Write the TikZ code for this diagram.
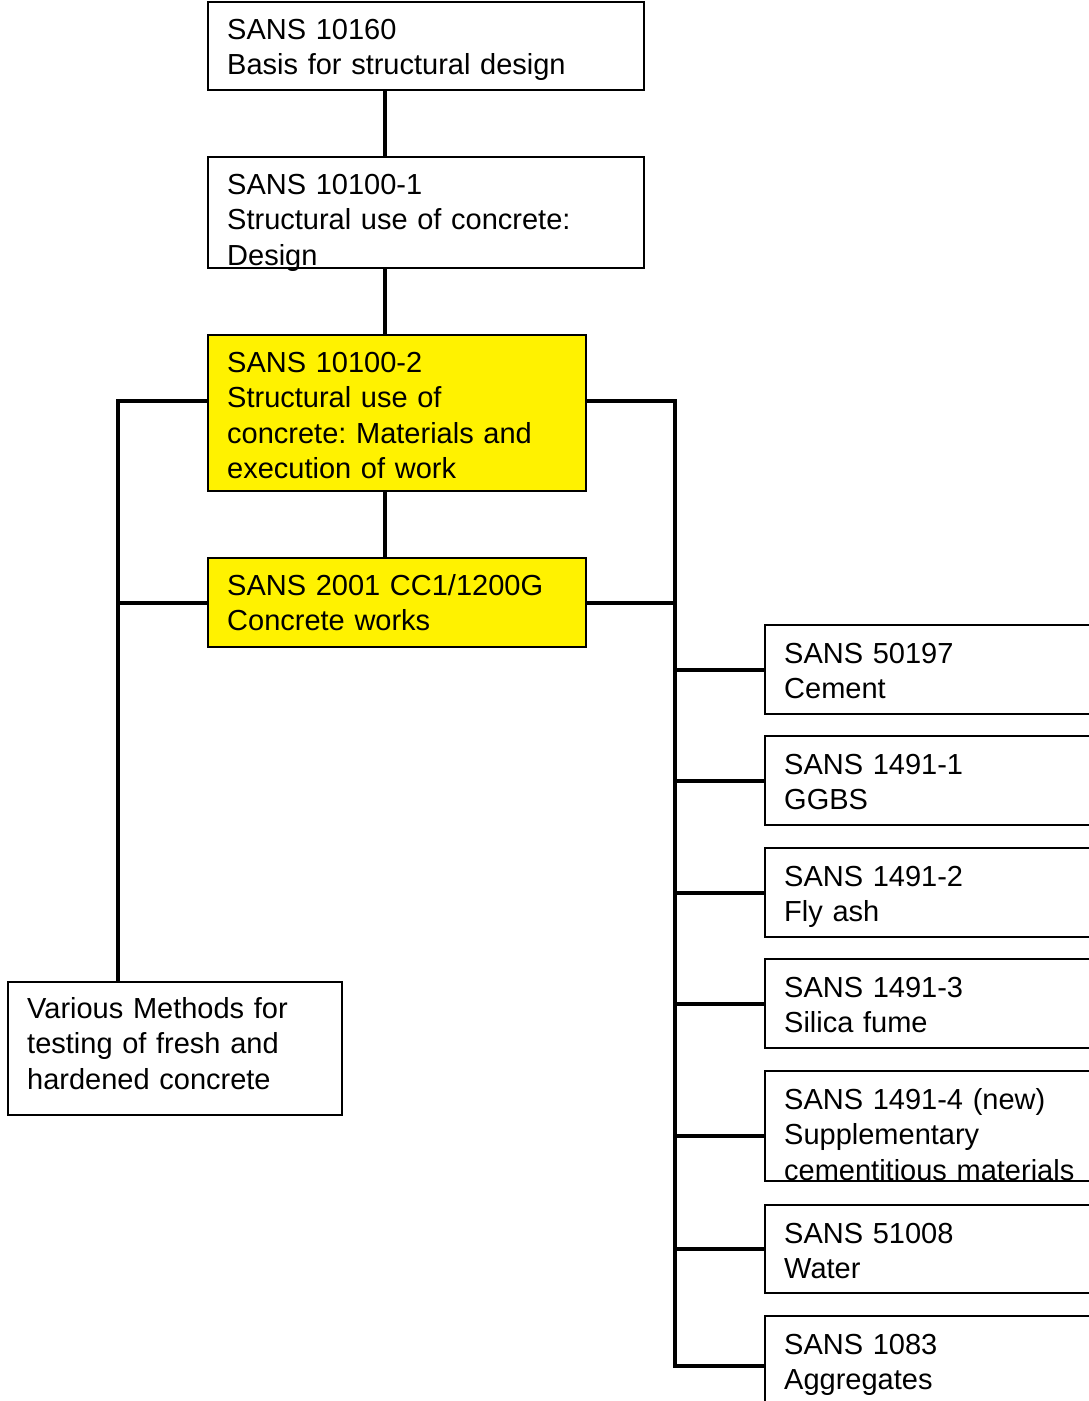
\documentclass[tikz,border=0pt]{standalone}
\usepackage{fontspec}
\setmainfont{Liberation Sans}
\frenchspacing
\begin{document}
\begin{tikzpicture}[x=1pt,y=-1pt,
  box/.style={draw=black,line width=2pt,inner sep=0pt,anchor=north west},
  hilite/.style={box,fill=yellow},
  link/.style={line width=4pt,line join=miter},
  txt/.style={anchor=base west,inner sep=0pt,text width=#1,align=left,
    font=\fontsize{29}{35.5}\selectfont},
  txt/.default=420pt]
\useasboundingbox (0,0) rectangle (1089,1401);
\clip (0,0) rectangle (1089,1401);

% main column
\node[box,minimum width=436pt,minimum height=88pt] (basis) at (207,1) {};
\node[box,minimum width=436pt,minimum height=111pt] (design) at (207,156) {};
\node[hilite,minimum width=378pt,minimum height=156pt] (mat) at (207,334) {};
\node[hilite,minimum width=378pt,minimum height=89pt] (works) at (207,557) {};
\node[box,minimum width=334pt,minimum height=133pt] (test) at (7,981) {};

% constituent materials (running off the right edge)
\node[box,minimum width=360pt,minimum height=89pt] (cem) at (764,624) {};
\node[box,minimum width=360pt,minimum height=89pt] (ggbs) at (764,735) {};
\node[box,minimum width=360pt,minimum height=89pt] (fly) at (764,847) {};
\node[box,minimum width=360pt,minimum height=89pt] (sil) at (764,958) {};
\node[box,minimum width=360pt,minimum height=110pt] (scm) at (764,1070) {};
\node[box,minimum width=360pt,minimum height=88pt] (wat) at (764,1204) {};
\node[box,minimum width=360pt,minimum height=100pt] (agg) at (764,1315) {};

% texts
\node[txt] (t1) at (227,39) {SANS 10160\\Basis for structural design};
\node[txt] (t2) at (227,194) {SANS 10100-1\\Structural use of concrete:\\Design};
\node[txt] (t3) at (227,372) {SANS 10100-2\\Structural use of\\concrete: Materials and\\execution of work};
\node[txt] (t4) at (227,595) {SANS 2001 CC1/1200G\\Concrete works};
\node[txt=320pt] (t5) at (27,1018) {Various Methods for\\testing of fresh and\\hardened concrete};
\node[txt=320pt] (t6) at (784,663) {SANS 50197\\Cement};
\node[txt=320pt] (t7) at (784,774) {SANS 1491-1\\GGBS};
\node[txt=320pt] (t8) at (784,886) {SANS 1491-2\\Fly ash};
\node[txt=320pt] (t9) at (784,997) {SANS 1491-3\\Silica fume};
\node[txt=320pt] (t10) at (784,1109) {SANS 1491-4 (new)\\Supplementary\\cementitious materials};
\node[txt=320pt] (t11) at (784,1243) {SANS 51008\\Water};
\node[txt=320pt] (t12) at (784,1354) {SANS 1083\\Aggregates};

% bus points
\coordinate (lb) at (118,401);
\coordinate (rb) at (675,401);
\coordinate (scmb) at (675,1136);

% connectors
\draw[link] (basis.south -| 385,0) -- (design.north -| 385,0);
\draw[link] (design.south -| 385,0) -- (mat.north -| 385,0);
\draw[link] (mat.south -| 385,0) -- (works.north -| 385,0);

\draw[link] (lb -| mat.west) -- (lb) -- (lb |- test.north);
\draw[link] (works.west) -- (works.west -| lb);

\draw[link] (rb -| mat.east) -- (rb) -- (rb |- agg.west) -- (agg.west);
\draw[link] (works.east) -- (works.east -| rb);
\draw[link] (cem.west -| rb) -- (cem.west);
\draw[link] (ggbs.west -| rb) -- (ggbs.west);
\draw[link] (fly.west -| rb) -- (fly.west);
\draw[link] (sil.west -| rb) -- (sil.west);
\draw[link] (scmb) -- (scmb -| scm.west);
\draw[link] (wat.west -| rb) -- (wat.west);
\end{tikzpicture}
\end{document}
